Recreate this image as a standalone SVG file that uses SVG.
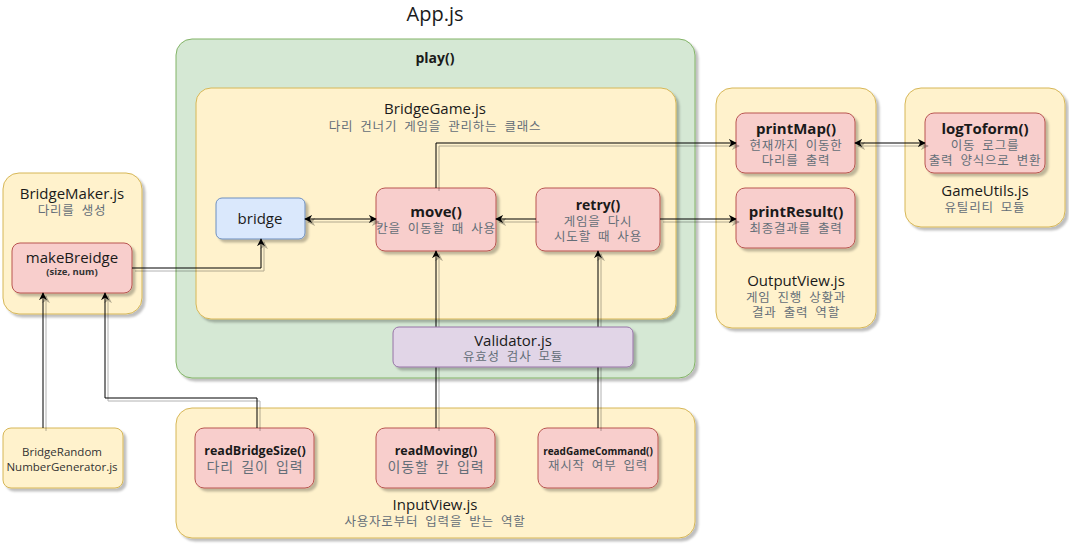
<svg xmlns="http://www.w3.org/2000/svg" width="1069" height="544" viewBox="0 0 1069 544">
<defs>
<filter id="sh" x="-10%" y="-10%" width="130%" height="130%">
<feDropShadow dx="3" dy="3" stdDeviation="1" flood-color="#000" flood-opacity="0.25"/>
</filter>
<filter id="lsh" filterUnits="userSpaceOnUse" x="0" y="0" width="1069" height="544">
<feDropShadow dx="3" dy="3" stdDeviation="0.6" flood-color="#000" flood-opacity="0.3"/>
</filter>
<marker id="ar" viewBox="0 0 10 10" refX="9" refY="5" markerWidth="8" markerHeight="8" orient="auto-start-reverse" markerUnits="userSpaceOnUse">
<path d="M0,0 L10,5 L0,10 L3,5 z" fill="#000"/>
</marker>
<style>
text{font-family:"Open Sans","Noto Sans","Noto Sans CJK KR",sans-serif;text-anchor:middle;fill:#1a1a1a}
.sub{fill:#646e78;font-size:12.5px;letter-spacing:0.8px;word-spacing:3px}
.big{font-size:14px}
.b{font-weight:bold}
.g{fill:#d5e8d4;stroke:#82b366}
.y{fill:#fff2cc;stroke:#d6b656}
.r{fill:#f8cecc;stroke:#b85450}
.bl{fill:#dae8fc;stroke:#6c8ebf}
.p{fill:#e1d5e7;stroke:#9673a6}
rect{filter:url(#sh)}
.c{filter:url(#lsh)}
.c path{fill:none;stroke:#000;stroke-width:1}
</style>
</defs>
<rect width="1069" height="544" fill="#fff" style="filter:none"/>
<text x="435" y="21" style="font-size:20px">App.js</text>

<g id="playGroup">
<rect class="g" x="176" y="39" width="519" height="339" rx="16"/>
<text x="435" y="63" class="b" style="font-size:14px">play()</text>
</g>
<g id="bridgeGame">
<rect class="y" x="196" y="88" width="480" height="231" rx="15"/>
<text x="435" y="114" style="font-size:15px">BridgeGame.js</text>
<text x="435" y="131" class="sub">다리 건너기 게임을 관리하는 클래스</text>
</g>
<g id="bridgeMaker">
<rect class="y" x="3" y="173" width="139" height="141" rx="16"/>
<text x="72" y="199" style="font-size:15px">BridgeMaker.js</text>
<text x="72" y="215" class="sub">다리를 생성</text>
</g>
<g id="outputView">
<rect class="y" x="716" y="88" width="160" height="240" rx="16"/>
<text x="796" y="286" style="font-size:15px">OutputView.js</text>
<text x="796" y="302" class="sub">게임 진행 상황과</text>
<text x="796" y="317" class="sub">결과 출력 역할</text>
</g>
<g id="gameUtils">
<rect class="y" x="905" y="88" width="160" height="139" rx="16"/>
<text x="985" y="196" style="font-size:15px">GameUtils.js</text>
<text x="985" y="212" class="sub">유틸리티 모듈</text>
</g>
<g id="inputView">
<rect class="y" x="176" y="408" width="519" height="130" rx="16"/>
<text x="435" y="510" style="font-size:15px">InputView.js</text>
<text x="435" y="526" class="sub">사용자로부터 입력을 받는 역할</text>
</g>

<g id="bridge">
<rect class="bl" x="216" y="198" width="89" height="41" rx="6"/>
<text x="260" y="224" style="font-size:15px">bridge</text>
</g>
<g id="move">
<rect class="r" x="376" y="188" width="120" height="63" rx="9"/>
<text x="436" y="217" class="b" style="font-size:15px">move()</text>
<text x="436" y="233" class="sub">칸을 이동할 때 사용</text>
</g>
<g id="retry">
<rect class="r" x="536" y="188" width="124" height="63" rx="9"/>
<text x="598" y="210" class="b" style="font-size:14px">retry()</text>
<text x="598" y="226" class="sub">게임을 다시</text>
<text x="598" y="241" class="sub">시도할 때 사용</text>
</g>
<g id="makeBreidge">
<rect class="r" x="12" y="243" width="120" height="50" rx="8"/>
<text x="72" y="263" style="font-size:15px">makeBreidge</text>
<text x="72" y="275" class="b" style="font-size:9.5px;fill:#333">(size, num)</text>
</g>
<g id="bridgeRandom">
<rect class="y" x="3" y="428" width="120" height="60" rx="8"/>
<text x="62" y="456" style="font-size:11.5px;fill:#333">BridgeRandom</text>
<text x="62" y="471" style="font-size:11.5px;fill:#333">NumberGenerator.js</text>
</g>
<g id="printMap">
<rect class="r" x="736" y="113" width="119" height="60" rx="9"/>
<text x="796" y="134" class="b" style="font-size:15px">printMap()</text>
<text x="796" y="150" class="sub">현재까지 이동한</text>
<text x="796" y="165" class="sub">다리를 출력</text>
</g>
<g id="printResult">
<rect class="r" x="736" y="188" width="119" height="60" rx="9"/>
<text x="796" y="217" class="b" style="font-size:15px">printResult()</text>
<text x="796" y="233" class="sub">최종결과를 출력</text>
</g>
<g id="logToform">
<rect class="r" x="925" y="113" width="120" height="60" rx="9"/>
<text x="985" y="134" class="b" style="font-size:15px">logToform()</text>
<text x="985" y="150" class="sub">이동 로그를</text>
<text x="985" y="165" class="sub">출력 양식으로 변환</text>
</g>
<g id="readBridgeSize">
<rect class="r" x="195" y="428" width="119" height="60" rx="9"/>
<text x="255" y="455" class="b" style="font-size:12.5px">readBridgeSize()</text>
<text x="255" y="472" class="sub big">다리 길이 입력</text>
</g>
<g id="readMoving">
<rect class="r" x="376" y="428" width="119" height="60" rx="9"/>
<text x="436" y="455" class="b" style="font-size:12.5px">readMoving()</text>
<text x="436" y="472" class="sub big">이동할 칸 입력</text>
</g>
<g id="readGameCommand">
<rect class="r" x="538" y="428" width="120" height="60" rx="9"/>
<text x="598" y="455" class="b" style="font-size:10px">readGameCommand()</text>
<text x="598" y="470" class="sub">재시작 여부 입력</text>
</g>

<g id="connectors" class="c">
<path d="M132,268 H261 V239" marker-end="url(#ar)"/>
<path d="M305,219 H376" marker-start="url(#ar)" marker-end="url(#ar)"/>
<path d="M536,219 H496" marker-end="url(#ar)"/>
<path d="M660,219 H736" marker-end="url(#ar)"/>
<path d="M436,188 V143 H736" marker-end="url(#ar)"/>
<path d="M855,143 H925" marker-start="url(#ar)" marker-end="url(#ar)"/>
<path d="M436,428 V251" marker-end="url(#ar)"/>
<path d="M598,428 V251" marker-end="url(#ar)"/>
<path d="M257,428 V398 H105 V293" marker-end="url(#ar)"/>
<path d="M43,428 V293" marker-end="url(#ar)"/>
</g>

<g id="validator">
<rect class="p" x="393" y="327" width="240" height="40" rx="6"/>
<text x="513" y="346" style="font-size:15px">Validator.js</text>
<text x="513" y="361" class="sub">유효성 검사 모듈</text>
</g>
</svg>
